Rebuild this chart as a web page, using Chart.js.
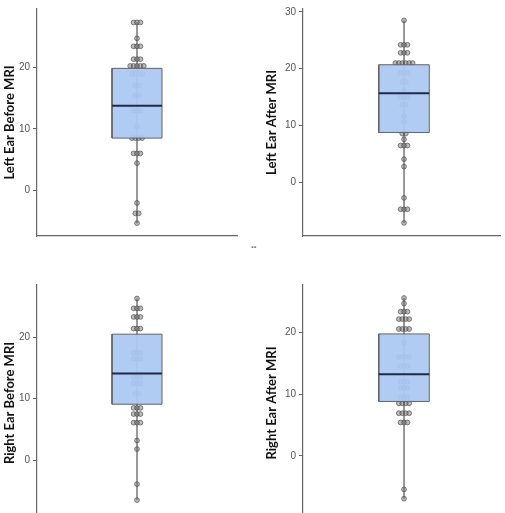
<!DOCTYPE html>
<html>
<head>
<meta charset="utf-8">
<script src="https://cdn.jsdelivr.net/npm/chart.js@4.4.0/dist/chart.umd.min.js"></script>
<style>
html, body { margin: 0; padding: 0; background: #fff; overflow: hidden; width: 505px; height: 513px; }
canvas { position: absolute; }
#dots { position: absolute; left: 251px; top: 239px; font: bold 10px 'Liberation Sans'; color: #666; }
</style>
</head>
<body>
<canvas id="c0" width="245" height="245" style="left:0;top:0"></canvas>
<canvas id="c1" width="243" height="245" style="left:262px;top:0"></canvas>
<canvas id="c2" width="245" height="270" style="left:0;top:260px"></canvas>
<canvas id="c3" width="243" height="270" style="left:262px;top:260px"></canvas>
<div id="dots">..</div>
<script>
var panelTitles = ['Left Ear Before MRI', 'Left Ear After MRI', 'Right Ear Before MRI', 'Right Ear After MRI'];

// individual scores (dots)
var leftBefore = [27.4, 27.4, 27.4, 24.8, 23.5, 23.5, 23.5, 21.4, 21.4, 21.4, 20.3, 20.3, 20.3, 20.3, 20.3,
  19, 19, 19, 19, 17.1, 17.1, 15.5, 15.5, 13, 13, 13, 10.4, 8.5, 8.5, 8.5, 8.5, 6, 6, 6, 4.4, -2.1, -3.8, -3.8, -5.4];
var leftAfter = [28.5, 24.2, 24.2, 24.2, 22.8, 22.8, 22.8, 21, 21, 21, 21, 21, 21, 19.3, 19.3, 19.3, 17.7, 17.7,
  16.1, 15, 15, 15, 13.7, 13.7, 11.7, 10.7, 8.6, 8.6, 7.6, 6.5, 6.5, 6.5, 4.1, 2.8, -2.7, -4.7, -4.7, -4.7, -7.1];
var rightBefore = [26.3, 24.7, 24.7, 24.7, 23.3, 23.3, 23.3, 21.4, 21.4, 21.4, 17.5, 17.5, 17.5, 16.5, 16.5, 16.5,
  13.5, 13.5, 13.5, 12.5, 12.5, 12.5, 10.8, 10.8, 8.5, 8.5, 8.5, 7.5, 7.5, 7.5, 6.1, 6.1, 6.1, 3.2, 1.8, -3.9, -6.5];
var rightAfter = [25.5, 24.6, 23.3, 23.3, 23.3, 22.1, 22.1, 22.1, 22.1, 20.5, 20.5, 20.5, 20.5, 18.3, 16, 16, 16, 16,
  14.5, 14.5, 14.5, 12, 12, 12, 11, 11, 11, 9.5, 9.5, 9.5, 8.5, 8.5, 8.5, 8.5, 6.9, 6.9, 6.9, 6.9, 5.4, 5.4, 5.4, -5.4, -6.9];

// box statistics per panel
var boxQ1 = [8.5, 8.8, 9.1, 8.8];
var boxMedian = [13.8, 15.7, 14.1, 13.2];
var boxQ3 = [19.9, 20.7, 20.5, 19.7];
var whiskerLow = [-5.4, -7.1, -6.5, -6.9];
var whiskerHigh = [27.4, 28.5, 26.3, 25.5];

// axes
var yTicks = [[0, 10, 20], [0, 10, 20, 30], [0, 10, 20], [0, 10, 20]];
var yMin = [-7.5, -9.4, -9.9, -10.5];
var yMax = [29.6, 30.5, 28.5, 27.6];

var allScores = [leftBefore, leftAfter, rightBefore, rightAfter];

var layouts = [
  { axisW: 37, xMax: 1, pad: { top: 5, right: 8, bottom: 8, left: 0 } },
  { axisW: 41, xMax: 0.95, pad: { top: 7, right: 5, bottom: 8, left: 0 } },
  { axisW: 37, xMax: 1, pad: { top: 25, right: 8, bottom: 5, left: 0 } },
  { axisW: 41, xMax: 0.95, pad: { top: 25, right: 5, bottom: 5, left: 0 } }
];

var halfW = 0.25;
var dotGap = 0.034;

function dotPoints(vals) {
  var groups = {};
  vals.forEach(function (v) { groups[v] = (groups[v] || 0) + 1; });
  var pts = [];
  Object.keys(groups).forEach(function (k) {
    var n = groups[k];
    for (var i = 0; i < n; i++) pts.push({ x: (i - (n - 1) / 2) * dotGap, y: parseFloat(k) });
  });
  return pts;
}

function makePanel(i) {
  var lay = layouts[i];
  var lineBase = { type: 'line', pointRadius: 0, tension: 0, fill: false };
  new Chart(document.getElementById('c' + i), {
    type: 'scatter',
    data: {
      datasets: [
        Object.assign({}, lineBase, { data: [{ x: -halfW, y: boxMedian[i] }, { x: halfW, y: boxMedian[i] }],
          borderColor: '#1d2b48', borderWidth: 2, order: 0 }),
        Object.assign({}, lineBase, { data: [{ x: -halfW, y: boxQ1[i] }, { x: halfW, y: boxQ1[i] }, { x: halfW, y: boxQ3[i] },
          { x: -halfW, y: boxQ3[i] }, { x: -halfW, y: boxQ1[i] }], borderColor: '#5f646b', borderWidth: 1, order: 1 }),
        Object.assign({}, lineBase, { data: [{ x: -halfW, y: boxQ3[i] }, { x: halfW, y: boxQ3[i] }],
          borderWidth: 0, borderColor: 'rgba(0,0,0,0)', backgroundColor: 'rgba(172,201,242,0.94)', fill: '+1', order: 2 }),
        Object.assign({}, lineBase, { data: [{ x: -halfW, y: boxQ1[i] }, { x: halfW, y: boxQ1[i] }],
          borderWidth: 0, borderColor: 'rgba(0,0,0,0)', order: 3 }),
        { type: 'scatter', data: dotPoints(allScores[i]), pointRadius: 2.4, pointBorderWidth: 0.9,
          backgroundColor: 'rgba(120,120,120,0.5)', borderColor: 'rgba(75,75,75,0.75)', order: 4 },
        Object.assign({}, lineBase, { data: [{ x: 0, y: whiskerLow[i] }, { x: 0, y: whiskerHigh[i] }],
          borderColor: '#555', borderWidth: 1.2, order: 5 })
      ]
    },
    options: {
      responsive: false,
      animation: false,
      events: [],
      layout: { padding: lay.pad },
      plugins: { legend: { display: false }, tooltip: { enabled: false } },
      scales: {
        x: {
          type: 'linear', min: -1, max: lay.xMax,
          ticks: { display: false },
          grid: { display: false },
          border: { display: true, color: '#666', width: 1.2 },
          afterFit: function (s) { s.height = 0; }
        },
        y: {
          min: yMin[i], max: yMax[i],
          afterBuildTicks: function (s) { s.ticks = yTicks[i].map(function (v) { return { value: v }; }); },
          afterFit: function (s) { s.width = lay.axisW; },
          ticks: { color: '#555', font: { family: 'Liberation Sans', size: 10 }, padding: 3 },
          grid: { display: true, drawOnChartArea: false, drawTicks: true, tickLength: 4, color: '#666' },
          border: { display: true, color: '#666', width: 1.2 },
          title: { display: true, text: panelTitles[i], color: '#111', padding: { top: 2, bottom: 2 },
            font: { family: 'Lato', size: 13, weight: 'bold' } }
        }
      }
    }
  });
}

for (var p = 0; p < 4; p++) makePanel(p);
</script>
</body>
</html>
